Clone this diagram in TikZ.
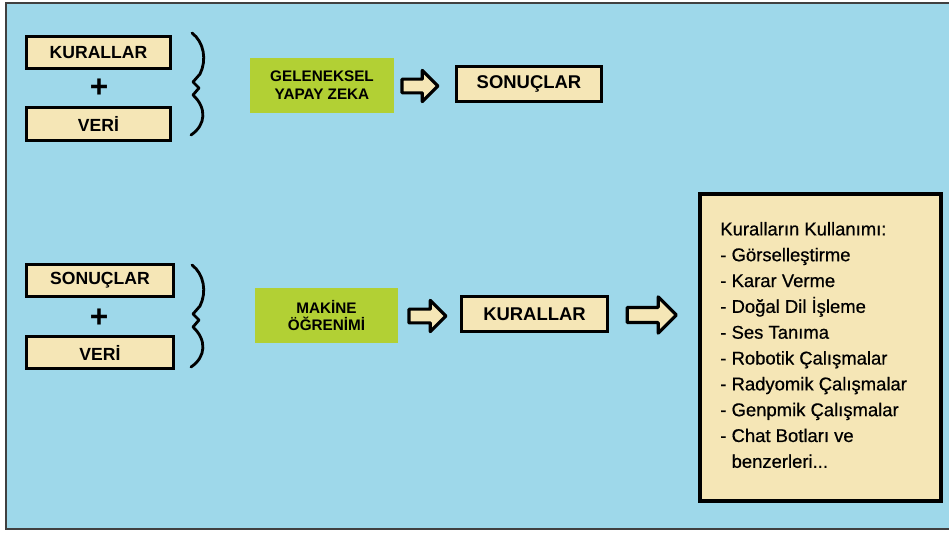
\documentclass[tikz,border=0pt]{standalone}
\usepackage{fontspec}
\setmainfont{Liberation Sans}
\newfontfamily\listefont[BoldFont=Liberation Sans, BoldFeatures={FakeBold=0.6}]{Liberation Sans}
\usetikzlibrary{shapes.arrows}
\definecolor{zemin}{RGB}{158,216,234}
\definecolor{krem}{RGB}{245,230,182}
\definecolor{yesil}{RGB}{178,208,52}
\newcommand{\kalin}{1.6pt}

\begin{document}
\begin{tikzpicture}[x=0.02cm,y=-0.02cm,
    kutu/.style={draw, fill=krem, line width=\kalin, inner sep=0pt, font=\fontsize{10}{12}\selectfont\bfseries},
    yesilkutu/.style={fill=yesil, inner sep=0pt, align=center, font=\fontsize{8.7}{10.2}\selectfont\bfseries},
    ok/.style={single arrow, draw, fill=krem, line width=1.8pt, line join=round, inner xsep=0pt, inner ysep=3pt, single arrow head extend=5pt},
    arti/.style={font=\fontsize{18}{18}\selectfont\bfseries, inner sep=0pt},
    parantez/.style={line width=1.6pt, line cap=round, line join=round}]
  \useasboundingbox (0,0) rectangle (949,534);
  \draw[fill=zemin, draw=black!75, line width=0.9pt] (6,3) rectangle (953,529);

  % geleneksel yapay zeka
      \node (kur1) at (98.5,52.5) [kutu, minimum width=2.88cm, minimum height=0.64cm] {KURALLAR};
      \node (arti1) at (99,88) [arti] {+};
      \node (veri1) at (98.5,124) [kutu, minimum width=2.88cm, minimum height=0.66cm] {VERİ};
      \node (gyz) at (322,85.5) [yesilkutu, minimum width=2.88cm, minimum height=1.1cm] {GELENEKSEL\\YAPAY ZEKA};
      \node (ok1) at (416.5,86) [ok, minimum height=0.72cm] {};
      \node (son1) at (529,84) [kutu, minimum width=2.9cm, minimum height=0.7cm, font=\fontsize{10.5}{12}\selectfont\bfseries] {SONUÇLAR};
      \draw[parantez] (192,33) .. controls (204,42) and (207,60) .. (200,74)
        -- (193,82) -- (199,88) -- (193,95) .. controls (207,108) and (206,125) .. (191,135);

  % makine ogrenimi
      \node (son2) at (100,280.5) [kutu, minimum width=2.94cm, minimum height=0.64cm] {SONUÇLAR};
      \node (arti2) at (99,318) [arti] {+};
      \node (veri2) at (100,352.5) [kutu, minimum width=2.94cm, minimum height=0.64cm] {VERİ};
      \node (mo) at (326.5,315.5) [yesilkutu, minimum width=2.86cm, minimum height=1.1cm] {MAKİNE\\ÖĞRENİMİ};
      \node (ok2) at (424,316) [ok, minimum height=0.74cm] {};
      \node (kur2) at (534.5,314) [kutu, minimum width=2.92cm, minimum height=0.7cm, font=\fontsize{10.5}{12}\selectfont\bfseries] {KURALLAR};
      \node (ok3) at (648,315) [ok, minimum height=0.98cm, inner ysep=3.4pt, single arrow head extend=6pt] {};
      \draw[parantez, shift={(0,232)}] (192,33) .. controls (204,42) and (207,60) .. (200,74)
        -- (193,82) -- (199,88) -- (193,95) .. controls (207,108) and (206,125) .. (191,135);

      \node (kullanim) at (820.5,347.5) [kutu, line width=2pt, minimum width=4.82cm, minimum height=6.14cm] {};
      \node (liste) at (720,345) [anchor=west, align=left, inner sep=0pt, font=\listefont\bfseries\fontsize{10.5}{14.7}\selectfont]
        {Kuralların Kullanımı:\\- Görselleştirme\\- Karar Verme\\- Doğal Dil İşleme\\- Ses Tanıma\\
         - Robotik Çalışmalar\\- Radyomik Çalışmalar\\- Genpmik Çalışmalar\\- Chat Botları ve\\
         \phantom{- }benzerleri...};
\end{tikzpicture}
\end{document}
